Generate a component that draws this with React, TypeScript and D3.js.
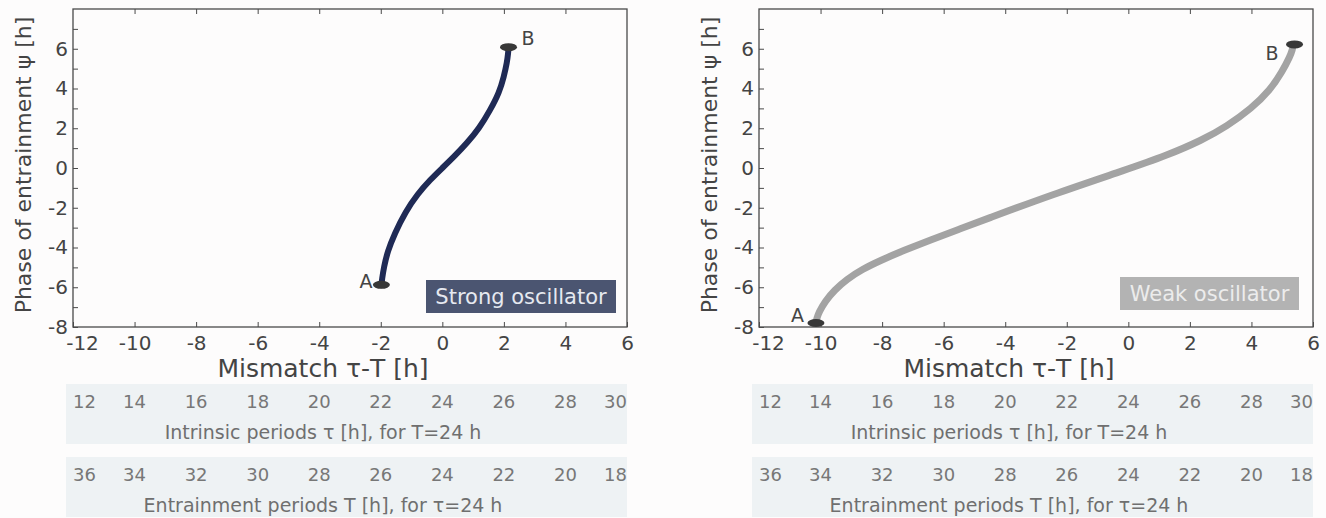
import { useEffect, useRef } from 'react';
import * as d3 from 'd3';

// mismatch tau-T [h] vs phase of entrainment psi [h]
const strongMismatch = [-1.98, -1.96, -1.9, -1.78, -1.55, -1.2, -0.8, -0.4, 0, 0.4, 0.8, 1.2, 1.55, 1.85, 2.0, 2.1, 2.14, 2.15];
const strongPhase = [-5.9, -5.6, -5.0, -4.2, -3.3, -2.2, -1.3, -0.6, 0, 0.6, 1.25, 2.0, 2.9, 3.8, 4.6, 5.3, 5.8, 6.05];

const weakMismatch = [-10.15, -10.12, -10.05, -9.85, -9.55, -9.15, -8.65, -8.05, -7.3, -6.4, -5.5, -4.7, -2.5, 0, 1.2, 2.4, 3.2, 4.0, 4.6, 5.0, 5.25, 5.33, 5.35];
const weakPhase = [-7.8, -7.55, -7.25, -6.7, -6.15, -5.6, -5.1, -4.65, -4.15, -3.6, -3.08, -2.62, -1.35, -0.05, 0.6, 1.4, 2.1, 3.0, 3.9, 4.85, 5.6, 5.95, 6.15];

// end points A and B
const strongEnds = [{ label: 'A', m: -1.98, p: -5.88 }, { label: 'B', m: 2.15, p: 6.08 }];
const weakEnds = [{ label: 'A', m: -10.15, p: -7.8 }, { label: 'B', m: 5.4, p: 6.22 }];

const xTicks = [-12, -10, -8, -6, -4, -2, 0, 2, 4, 6];
const yTicks = [-8, -6, -4, -2, 0, 2, 4, 6];
const yMinor = [-7, -5, -3, -1, 1, 3, 5, 7];

const intrinsicPeriods = [12, 14, 16, 18, 20, 22, 24, 26, 28, 30];
const entrainmentPeriods = [36, 34, 32, 30, 28, 26, 24, 22, 20, 18];

const FONT = '"DejaVu Sans", sans-serif';

const App = () => {
  const ref = useRef<SVGSVGElement>(null);

  useEffect(() => {
    document.body.style.margin = '0';
    const svg = d3.select(ref.current);
    svg.selectAll('*').remove();

    svg.append('rect').attr('width', 1326).attr('height', 518).attr('fill', '#fdfcfc');

    const panels = [
      {
        left: 73, mism: strongMismatch, phase: strongPhase, ends: strongEnds,
        color: '#1f2a55', width: 6, legend: 'Strong oscillator', legendFill: '#4b5571', legendText: '#e6e9f0',
        legendX: 426, legendW: 190, legendY: 280, labelDx: [-9, 13], labelDy: [-4, -9], labelAnchor: ['end', 'start'],
      },
      {
        left: 759, mism: weakMismatch, phase: weakPhase, ends: weakEnds,
        color: '#a3a3a3', width: 7, legend: 'Weak oscillator', legendFill: '#b3b3b3', legendText: '#ececec',
        legendX: 1120, legendW: 179, legendY: 277, labelDx: [-12, -16], labelDy: [-8, 9], labelAnchor: ['end', 'end'],
      },
    ];

    panels.forEach(pn => {
      const w = 554;
      const top = 9;
      const h = 318;
      const x = d3.scaleLinear().domain([-12, 6]).range([pn.left, pn.left + w]);
      const y = d3.scaleLinear().domain([-8, 8]).range([top + h, top]);

      const g = svg.append('g');

      // frame
      g.append('rect')
        .attr('x', pn.left).attr('y', top).attr('width', w).attr('height', h)
        .attr('fill', '#fdfcfc').attr('stroke', '#4a4a4a').attr('stroke-width', 1.3);

      // bottom axis (ticks inward)
      const bottom = g.append('g')
        .attr('transform', `translate(0,${top + h})`)
        .call(d3.axisBottom(x).tickValues(xTicks).tickSize(-5).tickSizeOuter(0).tickFormat(d => `${d}`));
      bottom.select('.domain').remove();
      bottom.selectAll('line').attr('stroke', '#4a4a4a');
      bottom.selectAll('text')
        .attr('font-family', FONT).attr('font-size', 20).attr('fill', '#444')
        .attr('y', 23).attr('dy', 0)
        .attr('x', (d, i) => (i === 0 ? 9 : 0));

      // top axis, ticks only
      const topAx = g.append('g')
        .attr('transform', `translate(0,${top})`)
        .call(d3.axisTop(x).tickValues(xTicks.slice(1, -1)).tickSize(-5).tickSizeOuter(0).tickFormat(() => ''));
      topAx.select('.domain').remove();
      topAx.selectAll('line').attr('stroke', '#4a4a4a');

      // left axis
      const leftAx = g.append('g')
        .attr('transform', `translate(${pn.left},0)`)
        .call(d3.axisLeft(y).tickValues(yTicks).tickSize(-5).tickPadding(5).tickSizeOuter(0).tickFormat(d => `${d}`));
      leftAx.select('.domain').remove();
      leftAx.selectAll('line').attr('stroke', '#4a4a4a');
      leftAx.selectAll('text').attr('font-family', FONT).attr('font-size', 20).attr('fill', '#444');

      const minorAx = g.append('g')
        .attr('transform', `translate(${pn.left},0)`)
        .call(d3.axisLeft(y).tickValues(yMinor).tickSize(-5).tickSizeOuter(0).tickFormat(() => ''));
      minorAx.select('.domain').remove();
      minorAx.selectAll('line').attr('stroke', '#4a4a4a');

      // axis titles
      g.append('text')
        .attr('transform', `translate(${pn.left - 42},${top + h / 2 - 3}) rotate(-90)`)
        .attr('text-anchor', 'middle')
        .attr('font-family', FONT).attr('font-size', 22).attr('fill', '#444')
        .text('Phase of entrainment  \u03c8 [h]');

      g.append('text')
        .attr('x', pn.left + w / 2 - 27).attr('y', top + h + 50)
        .attr('text-anchor', 'middle')
        .attr('font-family', FONT).attr('font-size', 25).attr('fill', '#444')
        .text('Mismatch \u03c4-T [h]');

      // curve, smoothed through the read points
      const pts = pn.mism.map((m, i) => [m, pn.phase[i]] as [number, number]);
      const line = d3.line<[number, number]>().x(d => x(d[0])).y(d => y(d[1])).curve(d3.curveBasis);
      g.append('path')
        .datum(pts)
        .attr('d', line)
        .attr('fill', 'none')
        .attr('stroke', pn.color)
        .attr('stroke-width', pn.width)
        .attr('stroke-linecap', 'round');

      // end markers
      pn.ends.forEach((e, i) => {
        g.append('ellipse')
          .attr('cx', x(e.m)).attr('cy', y(e.p))
          .attr('rx', 8.5).attr('ry', 4)
          .attr('fill', '#383838');
        g.append('text')
          .attr('x', x(e.m) + pn.labelDx[i]).attr('y', y(e.p) + pn.labelDy[i])
          .attr('text-anchor', pn.labelAnchor[i])
          .attr('font-family', FONT).attr('font-size', 19).attr('fill', '#444')
          .attr('dy', '0.35em')
          .text(e.label);
      });

      // legend box
      g.append('rect')
        .attr('x', pn.legendX).attr('y', pn.legendY).attr('width', pn.legendW).attr('height', 33)
        .attr('fill', pn.legendFill);
      g.append('text')
        .attr('x', pn.legendX + pn.legendW / 2).attr('y', pn.legendY + 17)
        .attr('text-anchor', 'middle').attr('dy', '0.35em')
        .attr('font-family', FONT).attr('font-size', 21).attr('fill', pn.legendText)
        .text(pn.legend);

      // period tables
      const tables = [
        { vals: intrinsicPeriods, title: 'Intrinsic periods \u03c4 [h], for T=24 h', y0: 384 },
        { vals: entrainmentPeriods, title: 'Entrainment periods T [h], for \u03c4=24 h', y0: 457 },
      ];
      tables.forEach(t => {
        g.append('rect')
          .attr('x', pn.left - 7).attr('y', t.y0).attr('width', w + 7).attr('height', 60)
          .attr('fill', '#eef2f4');
        g.selectAll(null)
          .data(t.vals)
          .enter().append('text')
          .attr('x', (d, i) => x(xTicks[i]))
          .attr('y', t.y0 + 24)
          .attr('text-anchor', (d, i) => i === 0 ? 'start' : i === t.vals.length - 1 ? 'end' : 'middle')
          .attr('font-family', FONT).attr('font-size', 18).attr('fill', '#777')
          .text(d => d);
        g.append('text')
          .attr('x', pn.left + w / 2 - 27).attr('y', t.y0 + 55)
          .attr('text-anchor', 'middle')
          .attr('font-family', FONT).attr('font-size', 19).attr('fill', '#6f6f6f')
          .text(t.title);
      });
    });
  }, []);

  return <svg ref={ref} width={1326} height={518} style={{ display: 'block' }} />;
};

export default App;
